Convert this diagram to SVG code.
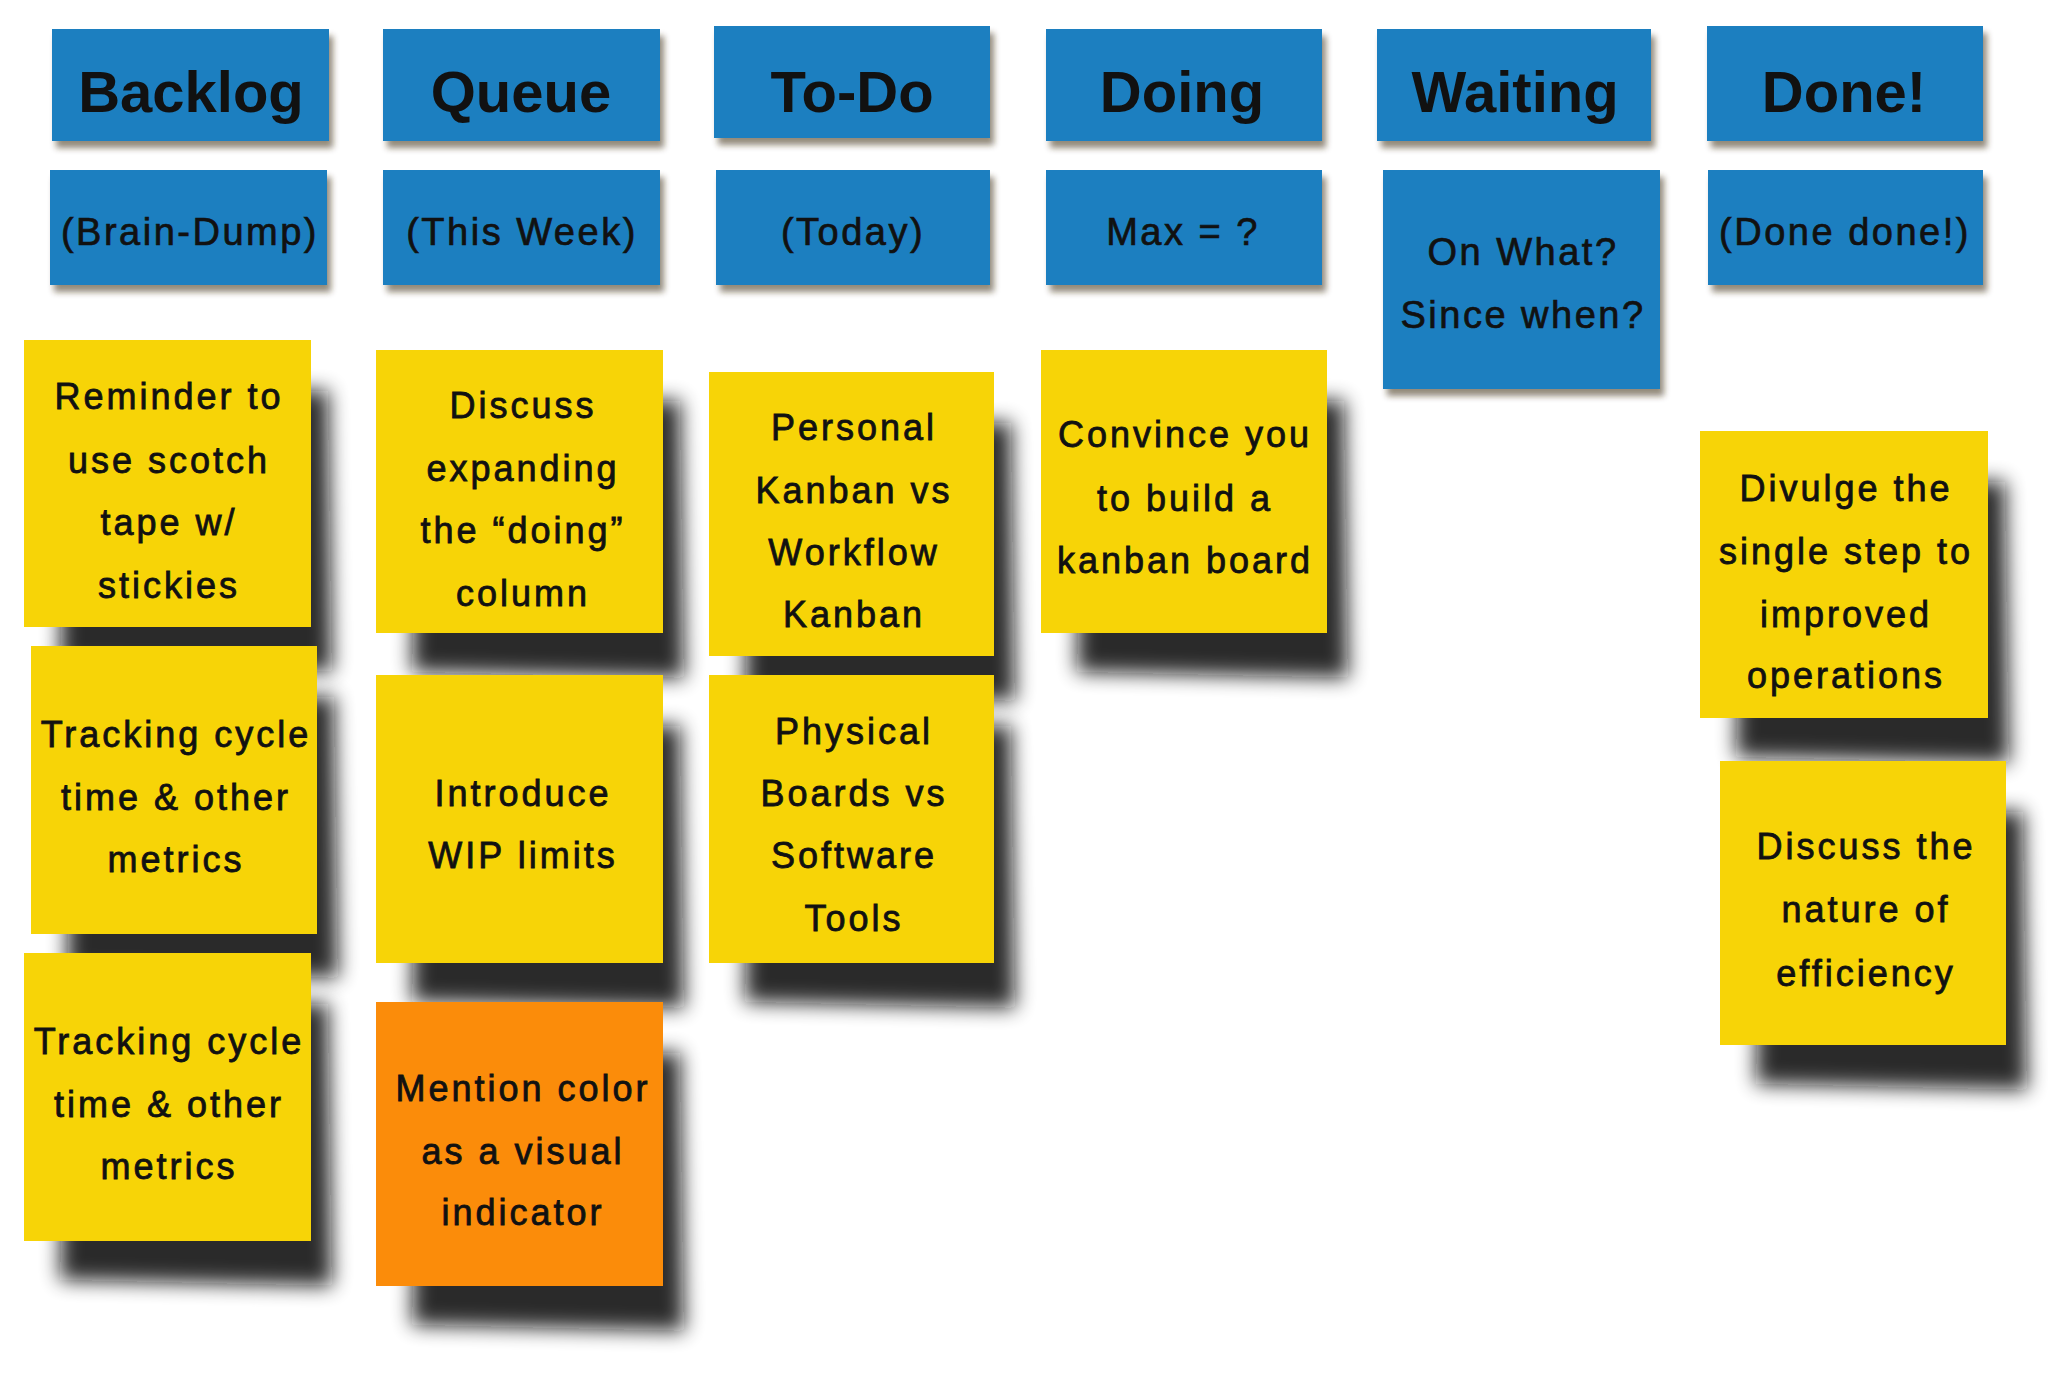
<svg xmlns="http://www.w3.org/2000/svg" width="2048" height="1396" viewBox="0 0 2048 1396">
<defs>
<filter id="blurBig" x="-30%" y="-30%" width="160%" height="160%"><feGaussianBlur stdDeviation="10"/></filter>
<filter id="blurSmall" x="-10%" y="-20%" width="120%" height="150%"><feGaussianBlur stdDeviation="3"/></filter>
<style>
.hdr{fill:#1c7fc0}
.hs{fill:#3a2a10;opacity:0.55;filter:url(#blurSmall)}
.ss{fill:#0a0a0a;opacity:0.88;filter:url(#blurBig)}
.y{fill:#f7d407}
.o{fill:#fb8c0a}
text{font-family:"Liberation Sans","DejaVu Sans",sans-serif;fill:#111;text-anchor:middle}
.h1{font-size:58px;font-weight:bold}
.h2{font-size:38px;letter-spacing:2.5px;stroke:#111;stroke-width:0.7px}
.st{font-size:36px;letter-spacing:3px;stroke:#111;stroke-width:0.8px}
</style>
</defs>
<rect width="2048" height="1396" fill="#ffffff"/>

<g id="hdr-backlog"><rect class="hs" x="56" y="36" width="277" height="112"/><rect class="hdr" x="52" y="29" width="277" height="112"/><text class="h1" x="191" y="112">Backlog</text></g>
<g id="hdr-queue"><rect class="hs" x="387" y="36" width="277" height="112"/><rect class="hdr" x="383" y="29" width="277" height="112"/><text class="h1" x="521" y="112">Queue</text></g>
<g id="hdr-todo"><rect class="hs" x="718" y="33" width="276" height="112"/><rect class="hdr" x="714" y="26" width="276" height="112"/><text class="h1" x="852" y="112">To-Do</text></g>
<g id="hdr-doing"><rect class="hs" x="1050" y="36" width="276" height="112"/><rect class="hdr" x="1046" y="29" width="276" height="112"/><text class="h1" x="1182" y="112">Doing</text></g>
<g id="hdr-waiting"><rect class="hs" x="1381" y="36" width="274" height="112"/><rect class="hdr" x="1377" y="29" width="274" height="112"/><text class="h1" x="1515" y="112">Waiting</text></g>
<g id="hdr-done"><rect class="hs" x="1711" y="33" width="276" height="115"/><rect class="hdr" x="1707" y="26" width="276" height="115"/><text class="h1" x="1844" y="112">Done!</text></g>

<g id="sub-backlog"><rect class="hs" x="54" y="177" width="277" height="115"/><rect class="hdr" x="50" y="170" width="277" height="115"/><text class="h2" x="190" y="245">(Brain-Dump)</text></g>
<g id="sub-queue"><rect class="hs" x="387" y="177" width="277" height="115"/><rect class="hdr" x="383" y="170" width="277" height="115"/><text class="h2" x="522" y="245">(This Week)</text></g>
<g id="sub-todo"><rect class="hs" x="720" y="177" width="274" height="115"/><rect class="hdr" x="716" y="170" width="274" height="115"/><text class="h2" x="853" y="245">(Today)</text></g>
<g id="sub-doing"><rect class="hs" x="1050" y="177" width="276" height="115"/><rect class="hdr" x="1046" y="170" width="276" height="115"/><text class="h2" x="1183" y="245">Max = ?</text></g>
<g id="sub-waiting"><rect class="hs" x="1387" y="177" width="277" height="219"/><rect class="hdr" x="1383" y="170" width="277" height="219"/><text class="h2" x="1523" y="265">On What?</text><text class="h2" x="1523" y="328">Since when?</text></g>
<g id="sub-done"><rect class="hs" x="1712" y="177" width="275" height="115"/><rect class="hdr" x="1708" y="170" width="275" height="115"/><text class="h2" x="1845" y="245">(Done done!)</text></g>

<g id="note-reminder"><path class="ss" d="M64,400 L328,390 L332,672 L60,665 Z"/><rect class="y" x="24" y="340" width="287" height="287"/><text class="st" x="169" y="409">Reminder to</text><text class="st" x="169" y="473">use scotch</text><text class="st" x="169" y="535">tape w/</text><text class="st" x="169" y="598">stickies</text></g>
<g id="note-tracking1"><path class="ss" d="M71,706 L334,696 L338,978 L67,972 Z"/><rect class="y" x="31" y="646" width="286" height="288"/><text class="st" x="176" y="747">Tracking cycle</text><text class="st" x="176" y="810">time &amp; other</text><text class="st" x="176" y="872">metrics</text></g>
<g id="note-tracking2"><path class="ss" d="M64,1013 L328,1003 L332,1286 L60,1280 Z"/><rect class="y" x="24" y="953" width="287" height="288"/><text class="st" x="169" y="1054">Tracking cycle</text><text class="st" x="169" y="1117">time &amp; other</text><text class="st" x="169" y="1179">metrics</text></g>

<g id="note-discuss"><path class="ss" d="M416,410 L680,400 L684,678 L412,672 Z"/><rect class="y" x="376" y="350" width="287" height="283"/><text class="st" x="523" y="418">Discuss</text><text class="st" x="523" y="481">expanding</text><text class="st" x="523" y="543">the “doing”</text><text class="st" x="523" y="606">column</text></g>
<g id="note-introduce"><path class="ss" d="M416,735 L680,725 L684,1008 L412,1002 Z"/><rect class="y" x="376" y="675" width="287" height="288"/><text class="st" x="523" y="806">Introduce</text><text class="st" x="523" y="868">WIP limits</text></g>
<g id="note-mention"><path class="ss" d="M416,1062 L680,1052 L684,1331 L412,1325 Z"/><rect class="o" x="376" y="1002" width="287" height="284"/><text class="st" x="523" y="1101">Mention color</text><text class="st" x="523" y="1164">as a visual</text><text class="st" x="523" y="1225">indicator</text></g>

<g id="note-personal"><path class="ss" d="M749,432 L1011,422 L1015,701 L745,695 Z"/><rect class="y" x="709" y="372" width="285" height="284"/><text class="st" x="854" y="440">Personal</text><text class="st" x="854" y="503">Kanban vs</text><text class="st" x="854" y="565">Workflow</text><text class="st" x="854" y="627">Kanban</text></g>
<g id="note-physical"><path class="ss" d="M749,735 L1011,725 L1015,1008 L745,1002 Z"/><rect class="y" x="709" y="675" width="285" height="288"/><text class="st" x="854" y="744">Physical</text><text class="st" x="854" y="806">Boards vs</text><text class="st" x="854" y="868">Software</text><text class="st" x="854" y="931">Tools</text></g>

<g id="note-convince"><path class="ss" d="M1081,410 L1344,400 L1348,678 L1077,672 Z"/><rect class="y" x="1041" y="350" width="286" height="283"/><text class="st" x="1185" y="447">Convince you</text><text class="st" x="1185" y="511">to build a</text><text class="st" x="1185" y="573">kanban board</text></g>

<g id="note-divulge"><path class="ss" d="M1740,491 L2005,481 L2009,763 L1736,757 Z"/><rect class="y" x="1700" y="431" width="288" height="287"/><text class="st" x="1846" y="501">Divulge the</text><text class="st" x="1846" y="564">single step to</text><text class="st" x="1846" y="627">improved</text><text class="st" x="1846" y="688">operations</text></g>
<g id="note-nature"><path class="ss" d="M1760,821 L2023,811 L2027,1090 L1756,1084 Z"/><rect class="y" x="1720" y="761" width="286" height="284"/><text class="st" x="1866" y="859">Discuss the</text><text class="st" x="1866" y="922">nature of</text><text class="st" x="1866" y="986">efficiency</text></g>

<g id="connectors"/>
</svg>
